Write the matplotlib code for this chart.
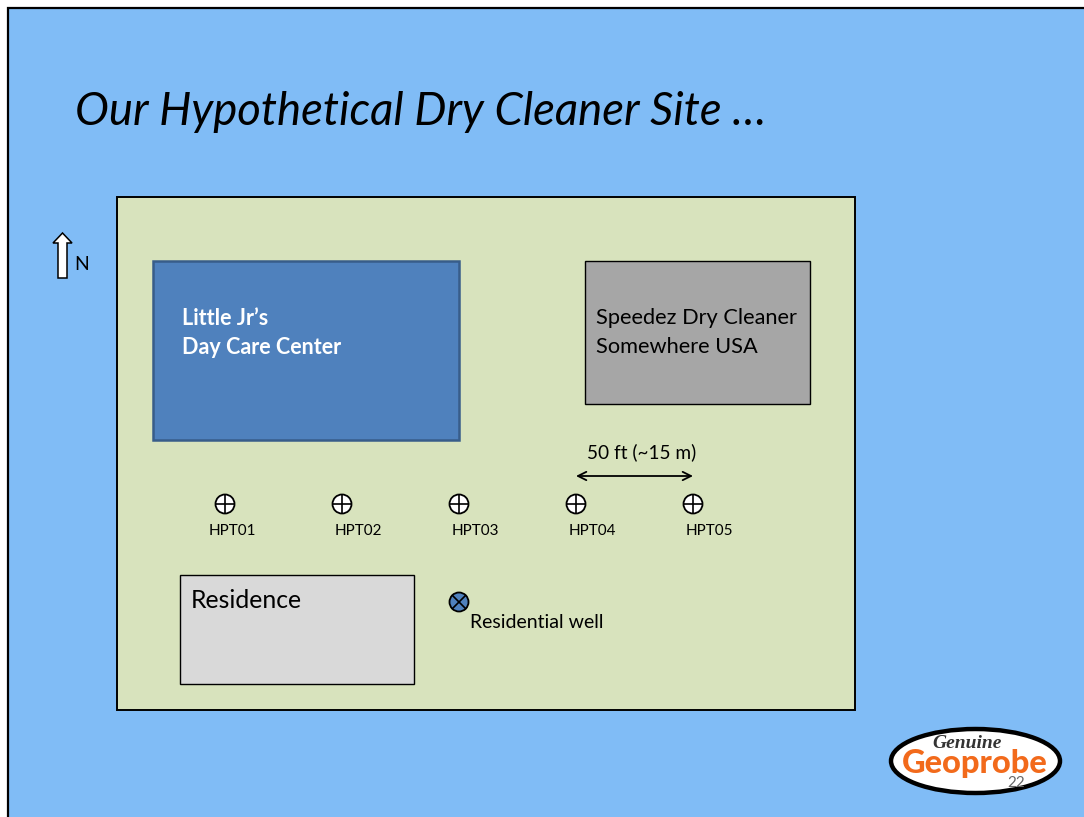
import matplotlib
matplotlib.use("Agg")
import matplotlib.pyplot as plt
from matplotlib.patches import Rectangle, Circle, Ellipse, Polygon

plt.rcParams['font.family'] = ['Lato', 'DejaVu Sans']

# well positions, in slide pixels
hpt_names = ['HPT01', 'HPT02', 'HPT03', 'HPT04', 'HPT05']
hpt_x = [225, 342, 459, 576, 693]
hpt_label_x = [232, 358, 475, 592, 709]
hpt_y = 504
well_x, well_y = 459, 602

# name, x, y, w, h, face, edge, linewidth
boxes = [
    ('site', 116.5, 197, 738.5, 513, '#d8e3bd', '#000000', 1.4),
    ('daycare', 152.5, 260.5, 306.5, 179.5, '#4f81bd', '#385d8a', 1.8),
    ('cleaner', 584.5, 260.5, 225.5, 143.5, '#a6a6a6', '#000000', 1.0),
    ('residence', 179.5, 575, 234.5, 109, '#d9d9d9', '#000000', 1.0),
]

fig = plt.figure(figsize=(10.84, 8.17), dpi=100, facecolor='white')
ax = fig.add_axes([0, 0, 1, 1])
ax.set_xlim(0, 1084)
ax.set_ylim(817, 0)
ax.axis('off')

# slide background
ax.add_patch(Rectangle((8, 8), 1090, 820, fc='#80bcf6', ec='black', lw=1.6))

ax.text(75, 112, 'Our Hypothetical Dry Cleaner Site …', fontsize=32.8, style='italic',
        va='center', color='black')

for name, x, y, w, h, fc, ec, lw in boxes:
    ax.add_patch(Rectangle((x, y), w, h, fc=fc, ec=ec, lw=lw))

# north arrow
ax.add_patch(Polygon([(58, 278), (58, 243), (53, 243), (62.5, 233), (72, 243), (67, 243), (67, 278)],
                     fc='white', ec='black', lw=1.1))
ax.text(74, 264, 'N', fontsize=14, va='center')

ax.text(182, 318, 'Little Jr’s', fontsize=15.5, weight='bold', color='white', va='center')
ax.text(182, 347, 'Day Care Center', fontsize=15.5, weight='bold', color='white', va='center')
ax.text(596, 318, 'Speedez Dry Cleaner', fontsize=15.7, va='center')
ax.text(596, 347, 'Somewhere USA', fontsize=15.7, va='center')
ax.text(191, 600, 'Residence', fontsize=17.8, va='center')

# spacing arrow
ax.text(641.5, 452, '50 ft (~15 m)', fontsize=13.7, ha='center', va='center')
ax.annotate('', xy=(693, 476), xytext=(576, 476),
            arrowprops=dict(arrowstyle='<->', lw=1.3, color='black', mutation_scale=15,
                            shrinkA=0, shrinkB=0))

for x, lx, name in zip(hpt_x, hpt_label_x, hpt_names):
    ax.add_patch(Circle((x, hpt_y), 9.5, fc='white', ec='black', lw=1.3, zorder=3))
    ax.plot([x - 9, x + 9], [hpt_y, hpt_y], color='black', lw=1.2, zorder=4)
    ax.plot([x, x], [hpt_y - 9, hpt_y + 9], color='black', lw=1.2, zorder=4)
    ax.text(lx, 531, name, fontsize=11, ha='center', va='center')

# residential well
ax.add_patch(Circle((well_x, well_y), 9.5, fc='#4f81bd', ec='black', lw=1.3, zorder=3))
d = 6.6
ax.plot([well_x - d, well_x + d], [well_y - d, well_y + d], color='black', lw=1.2, zorder=4)
ax.plot([well_x - d, well_x + d], [well_y + d, well_y - d], color='black', lw=1.2, zorder=4)
ax.text(470, 623, 'Residential well', fontsize=14, va='center')

# logo
ax.add_patch(Ellipse((975.5, 761), 169, 64, fc='white', ec='black', lw=3.2))
ax.text(967, 744, 'Genuine', fontsize=14, family=['Liberation Serif'], weight='bold',
        style='italic', color='#333333', ha='center', va='center')
ax.text(975, 763, 'Geoprobe', fontsize=23.5, weight='black', color='#f26a1b', ha='center', va='center')
ax.text(1016, 783, '22', fontsize=11, color='#666666', ha='center', va='center')

fig.savefig('out.png', dpi=100)
